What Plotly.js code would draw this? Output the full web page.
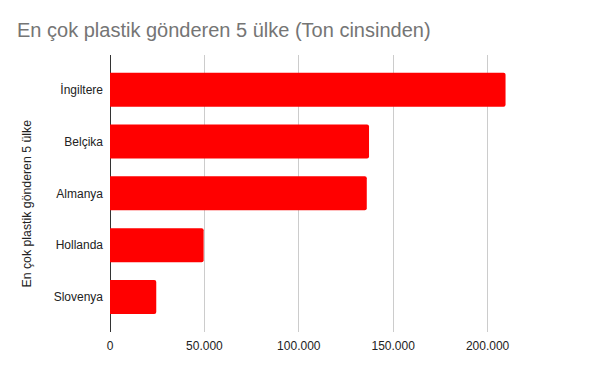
<!DOCTYPE html>
<html>
<head>
<meta charset="utf-8">
<script src="https://cdn.plot.ly/plotly-3.0.1.min.js"></script>
<style>html,body{margin:0;padding:0;background:#fff;}#chart{width:600px;height:371px;}</style>
</head>
<body>
<div id="chart"></div>
<script>
var countries = ['İngiltere', 'Belçika', 'Almanya', 'Hollanda', 'Slovenya'];
var tons = [209500, 137200, 136000, 49600, 24500];
var xTickVals = [0, 50000, 100000, 150000, 200000, 250000];
var xTickText = ['0', '50.000', '100.000', '150.000', '200.000', ''];
var chartTitle = 'En çok plastik gönderen 5 ülke (Ton cinsinden)';
var yTitle = 'En çok plastik gönderen 5 ülke';

var trace = {
  type: 'bar',
  orientation: 'h',
  x: tons,
  y: countries,
  marker: {color: '#ff0000'},
  hoverinfo: 'x+y'
};

var layout = {
  width: 600,
  height: 371,
  margin: {l: 110, r: 18, t: 55, b: 39},
  paper_bgcolor: '#ffffff',
  plot_bgcolor: '#ffffff',
  font: {family: 'Arial, "Liberation Sans", sans-serif', color: '#222222', size: 12},
  title: {
    text: chartTitle,
    x: 0, xref: 'container', xanchor: 'left',
    y: 1, yref: 'container', yanchor: 'top',
    pad: {t: 23, l: 17},
    font: {family: 'Arial, "Liberation Sans", sans-serif', size: 20, color: '#757575'}
  },
  bargap: 0.344,
  barcornerradius: 2,
  separators: ',.',
  showlegend: false,
  xaxis: {
    range: [0, 250000],
    tickvals: xTickVals,
    ticktext: xTickText,
    showgrid: true,
    gridcolor: '#cccccc',
    gridwidth: 1,
    zeroline: true,
    zerolinecolor: '#333333',
    zerolinewidth: 1,
    showline: false,
    ticks: '',
    ticklabelstandoff: 5,
    tickfont: {size: 12, color: '#222222'},
    fixedrange: true
  },
  yaxis: {
    type: 'category',
    categoryorder: 'array',
    categoryarray: countries,
    range: [4.675, -0.669],
    showgrid: false,
    zeroline: false,
    showline: false,
    ticks: '',
    ticklabelstandoff: 6,
    tickfont: {size: 12, color: '#222222'},
    fixedrange: true
  },
  annotations: [{
    text: yTitle,
    xref: 'paper', yref: 'paper',
    x: -0.1758, y: 0.464,
    xanchor: 'center', yanchor: 'middle',
    textangle: -90,
    showarrow: false,
    font: {size: 12.3, color: '#222222'}
  }]
};

Plotly.newPlot('chart', [trace], layout, {displayModeBar: false, staticPlot: true});
</script>
</body>
</html>
